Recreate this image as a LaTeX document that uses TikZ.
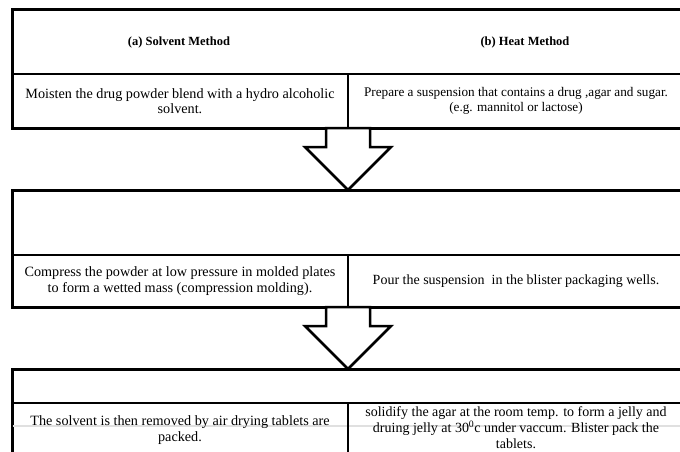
\documentclass[tikz,border=0pt]{standalone}
\usepackage{fontspec}
\setmainfont{Liberation Serif}
\usetikzlibrary{positioning,calc,shadows}

\begin{document}
\begin{tikzpicture}[x=1pt,y=-1pt]
  \tikzstyle{frame}=[draw, line width=3pt, fill=white, outer sep=0pt, anchor=north west,
drop shadow={shadow xshift=1pt, shadow yshift=-1.5pt, fill=black!35}]
  \tikzstyle{cell}=[draw, line width=1.6pt, outer sep=0pt, inner sep=0pt, anchor=north west,
align=center, font=\fontsize{14.2}{15.5}\selectfont]
  \tikzstyle{head}=[font=\bfseries\fontsize{12.5}{14}\selectfont]
  \tikzstyle{bigarrow}=[draw, line width=2.5pt, fill=white, line join=miter]
  \useasboundingbox (0,0) rectangle (680,452);
  \clip (0,0) rectangle (680,452);

  % the three frames
  \node[frame, minimum width=700pt, minimum height=118pt] (box1) at (12,10) {};
  \node[frame, minimum width=700pt, minimum height=117pt] (box2) at (12,190) {};
  \node[frame, minimum width=700pt, minimum height=110pt] (box3) at (12,369) {};

  \node[head] (solvent) at (179,42) {(a) Solvent Method};
  \node[head] (heat) at (525,42) {(b) Heat Method};

  \draw[black!12, line width=2pt] (12,426) -- (680,426);

  % steps
  \node[cell, minimum width=336pt, minimum height=54pt] (a1) at (12,74)
    {Moisten the drug powder blend with a hydro alcoholic\\ solvent.};
  \node[cell, minimum width=336pt, minimum height=54pt, font=\fontsize{13.2}{15.5}\selectfont] (b1) at (348,74)
    {Prepare a suspension that contains a drug ,agar and sugar.\\ (e.g. mannitol or lactose)};
  \node[cell, minimum width=336pt, minimum height=52pt] (a2) at (12,255)
    {Compress the powder at low pressure in molded plates\\ to form a wetted mass (compression molding).};
  \node[cell, minimum width=336pt, minimum height=52pt, font=\fontsize{14}{15.5}\selectfont] (b2) at (348,255)
    {Pour the suspension\ \ in the blister packaging wells.};
  \node[cell, minimum width=336pt, minimum height=54pt] (a3) at (12,403)
    {The solvent is then removed by air drying tablets are\\ packed.};
  \node[cell, minimum width=336pt, minimum height=50pt, font=\fontsize{14}{16}\selectfont] (b3) at (348,403)
    {solidify the agar at the room temp. to form a jelly and\\ druing jelly at 30\textsuperscript{0}c under vaccum. Blister pack the\\ tablets.};

  % block arrows
  \draw[bigarrow] ($(a1.south east)+(-22,0)$) -- ++(0,19) -- ++(-21,0)
    -- (a1.south east |- box2.north) -- ++(43,-43) -- ++(-21,0)
    -- ($(a1.south east)+(22,0)$) -- cycle;
  \draw[bigarrow] ($(a2.south east)+(-22,0)$) -- ++(0,19) -- ++(-21,0)
    -- (a2.south east |- box3.north) -- ++(43,-43) -- ++(-21,0)
    -- ($(a2.south east)+(22,0)$) -- cycle;
\end{tikzpicture}
\end{document}
